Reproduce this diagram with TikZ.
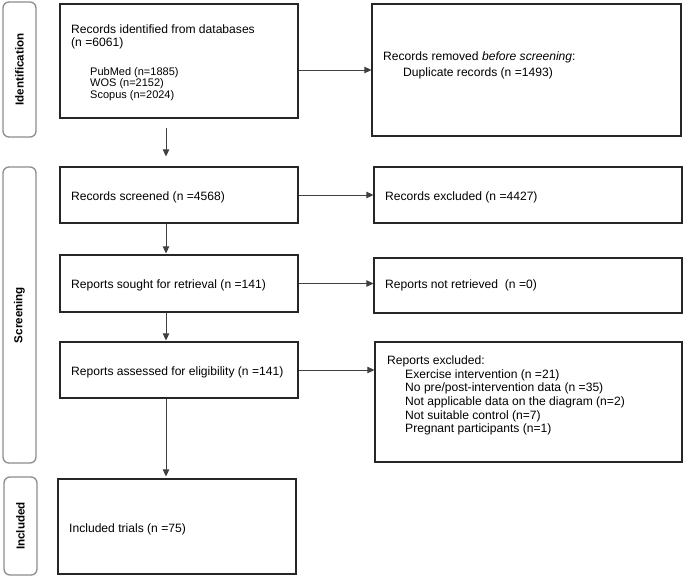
\documentclass[tikz,border=0pt]{standalone}
\usepackage{fontspec}
\setmainfont{Liberation Sans}
\usetikzlibrary{arrows.meta,calc}
\begin{document}
\begin{tikzpicture}[x=1pt,y=-1pt,
  box/.style={draw=black!85, line width=1.2pt, inner sep=0pt, fill=white},
  sidebox/.style={draw=black!45, line width=1.3pt, rounded corners=6pt, inner sep=0pt},
  sidelabel/.style={rotate=90, font=\fontsize{11.6}{13}\selectfont\bfseries, inner sep=0pt},
  txt/.style={anchor=base west, inner sep=0pt, font=\fontsize{12.1}{13.7}\selectfont},
  smalltxt/.style={anchor=base west, inner sep=0pt, font=\fontsize{11}{11.5}\selectfont},
  conn/.style={draw=black!75, line width=0.9pt, -{Triangle[length=7pt,width=6.5pt]}}
]
\useasboundingbox (0,0) rectangle (685,578);

% phase labels
\node[sidebox, minimum width=33, minimum height=135] (s1) at (19.5,69.5) {};
\node[sidelabel] (l1) at (s1.center) {Identification};
\node[sidebox, minimum width=33, minimum height=296] (s2) at (19.5,315) {};
\node[sidelabel] (l2) at (s2.center) {Screening};
\node[sidebox, minimum width=33, minimum height=98] (s3) at (20.5,526) {};
\node[sidelabel] (l3) at (s3.center) {Included};

% main column
\node[box, minimum width=238, minimum height=114] (b1) at (179,61) {};
\node[box, minimum width=238, minimum height=56] (b2) at (179,195) {};
\node[box, minimum width=238, minimum height=57] (b3) at (179,283.5) {};
\node[box, minimum width=238, minimum height=56] (b4) at (179,370) {};
\node[box, minimum width=238, minimum height=95] (b5) at (177,526.5) {};

% right column
\node[box, minimum width=309, minimum height=132] (r1) at (526.5,70) {};
\node[box, minimum width=308, minimum height=56] (r2) at (528,195) {};
\node[box, minimum width=308, minimum height=55] (r3) at (528,285.5) {};
\node[box, minimum width=307, minimum height=120] (r4) at (528.5,402) {};

% texts
\node[txt] (t1a) at (71,34) {Records identified from databases};
\node[txt] (t1b) at (71,46.5) {(n =6061)};
\node[smalltxt] (t1c) at (90,75) {PubMed (n=1885)};
\node[smalltxt] (t1d) at (90,86.5) {WOS (n=2152)};
\node[smalltxt] (t1e) at (90,98) {Scopus (n=2024)};

\node[txt] (tr1a) at (383,61) {Records removed \textit{before screening}:};
\node[txt] (tr1b) at (403,76) {Duplicate records (n =1493)};

\node[txt] (t2) at (71,200) {Records screened (n =4568)};
\node[txt] (tr2) at (385,200) {Records excluded (n =4427)};

\node[txt] (t3) at (71,288.5) {Reports sought for retrieval (n =141)};
\node[txt] (tr3) at (385,288.5) {Reports not retrieved\ \ (n =0)};

\node[txt] (t4) at (71,375) {Reports assessed for eligibility (n =141)};
\node[txt] (tr4a) at (387,364) {Reports excluded:};
\node[txt] (tr4b) at (405,378) {Exercise intervention (n =21)};
\node[txt] (tr4c) at (405,391.7) {No pre/post-intervention data (n =35)};
\node[txt] (tr4d) at (405,405.4) {Not applicable data on the diagram (n=2)};
\node[txt] (tr4e) at (405,419.1) {Not suitable control (n=7)};
\node[txt] (tr4f) at (405,432.8) {Pregnant participants (n=1)};

\node[txt] (t5) at (69,532) {Included trials (n =75)};

% connectors
\coordinate (ax) at (166,0);
\draw[conn, shorten <=9pt, shorten >=10pt] (b1.south -| ax) -- (b2.north -| ax);
\draw[conn, shorten >=1pt] (b2.south -| ax) -- (b3.north -| ax);
\draw[conn, shorten >=1pt] (b3.south -| ax) -- (b4.north -| ax);
\draw[conn, shorten >=2pt] (b4.south -| ax) -- (b5.north -| ax);

\draw[conn] (b1.east |- r1.west) -- (r1.west);
\draw[conn] (b2.east) -- (r2.west);
\draw[conn] (b3.east) -- (b3.east -| r3.west);
\draw[conn] (b4.east) -- (b4.east -| r4.west);
\end{tikzpicture}
\end{document}
